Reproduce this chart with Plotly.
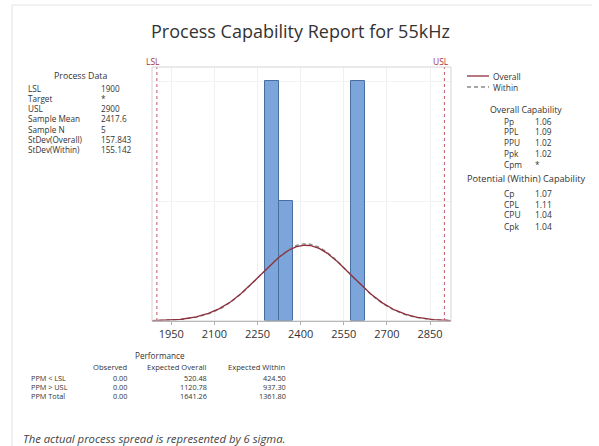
import numpy as np
import plotly.graph_objects as go

# ---- process data ----
LSL = 1900
USL = 2900
mean = 2417.6
n = 5
sd_overall = 157.843
sd_within = 155.142

# histogram bins (left edge, count), bin width 50
bin_left = [2275, 2325, 2575]
bin_counts = [2, 1, 2]
bin_width = 50

x_ticks = [1950, 2100, 2250, 2400, 2550, 2700, 2850]

process_labels = ["LSL", "Target", "USL", "Sample Mean", "Sample N",
                  "StDev(Overall)", "StDev(Within)"]
process_values = ["1900", "*", "2900", "2417.6", "5", "157.843", "155.142"]

overall_labels = ["Pp", "PPL", "PPU", "Ppk", "Cpm"]
overall_values = ["1.06", "1.09", "1.02", "1.02", "*"]
within_labels = ["Cp", "CPL", "CPU", "Cpk"]
within_values = ["1.07", "1.11", "1.04", "1.04"]

perf_rows = ["PPM < LSL", "PPM > USL", "PPM Total"]
perf_observed = ["0.00", "0.00", "0.00"]
perf_exp_overall = ["520.48", "1120.78", "1641.26"]
perf_exp_within = ["424.50", "937.30", "1361.80"]

W, H = 599, 446
FONT = "Open Sans"
TXT = "#333333"


def px(x):
    return x / W


def py(y):
    return 1 - y / H


X_RANGE = [1883, 2923]
Y_MAX = 2.117

fig = go.Figure()

# histogram bars
fig.add_trace(go.Bar(
    x=[b + bin_width / 2 for b in bin_left], y=bin_counts, width=bin_width,
    marker=dict(color="#7ca6db", line=dict(color="#4a6f9f", width=1)),
    showlegend=False, hoverinfo="skip"))

# fitted normal curves, scaled to counts per bin
xs = np.linspace(X_RANGE[0], X_RANGE[1], 400)


def scaled_pdf(sd):
    return n * bin_width * np.exp(-0.5 * ((xs - mean) / sd) ** 2) / (sd * np.sqrt(2 * np.pi))


fig.add_trace(go.Scatter(x=xs, y=scaled_pdf(sd_within), mode="lines",
                         line=dict(color="#8a8a8a", width=1.3, dash="4px,3px"),
                         showlegend=False, hoverinfo="skip"))
fig.add_trace(go.Scatter(x=xs, y=scaled_pdf(sd_overall), mode="lines",
                         line=dict(color="#8e2f3d", width=1.3),
                         showlegend=False, hoverinfo="skip"))

# spec limits
for lim, name in [(LSL, "LSL"), (USL, "USL")]:
    fig.add_trace(go.Scatter(x=[lim, lim], y=[0, Y_MAX], mode="lines",
                             line=dict(color="#c0566a", width=1, dash="dot"),
                             showlegend=False, hoverinfo="skip"))
    fig.add_annotation(x=lim - 12, xref="x", y=py(61), yref="paper", text=name,
                       showarrow=False, xanchor="center", yanchor="middle",
                       font=dict(family=FONT, size=8.5, color="#a83246"))

fig.update_layout(
    width=W, height=H, margin=dict(l=0, r=0, t=0, b=0),
    paper_bgcolor="white", plot_bgcolor="white",
    bargap=0,
    xaxis=dict(domain=[px(152), px(451)], range=X_RANGE, tickvals=x_ticks,
               showgrid=True, gridcolor="#f0f0f0", gridwidth=1,
               ticks="outside", ticklen=3, tickcolor="#b0b0b0",
               showline=True, linecolor="#9a9a9a", linewidth=1,
               tickfont=dict(family=FONT, size=11, color=TXT), zeroline=False),
    yaxis=dict(domain=[py(321), py(67)], range=[0, Y_MAX], tickvals=[1, 2],
               showticklabels=False, showgrid=True, gridcolor="#f3f3f3",
               zeroline=False, showline=False),
    showlegend=False,
)

shapes = []
# plot area border
shapes.append(dict(type="rect", xref="paper", yref="paper",
                   x0=px(152), x1=px(451), y0=py(321), y1=py(67),
                   line=dict(color="#d4d4d4", width=1)))
# outer frame
shapes.append(dict(type="line", xref="paper", yref="paper",
                   x0=px(12), x1=px(592), y0=py(5), y1=py(5),
                   line=dict(color="#e2e2e2", width=1)))
shapes.append(dict(type="line", xref="paper", yref="paper",
                   x0=px(12), x1=px(12), y0=py(5), y1=0,
                   line=dict(color="#e2e2e2", width=1)))
# legend samples
shapes.append(dict(type="line", xref="paper", yref="paper",
                   x0=px(467), x1=px(489), y0=py(76), y1=py(76),
                   line=dict(color="#8e2f3d", width=1.3)))
shapes.append(dict(type="line", xref="paper", yref="paper",
                   x0=px(467), x1=px(489), y0=py(87), y1=py(87),
                   line=dict(color="#8a8a8a", width=1.3, dash="4px,3px")))
fig.update_layout(shapes=shapes)


def text(x, y, s, anchor="left", size=8.3, color=TXT, italic=False):
    fig.add_annotation(x=px(x), y=py(y), xref="paper", yref="paper", text=s,
                       showarrow=False, xanchor=anchor, yanchor="middle",
                       borderpad=0,
                       font=dict(family=FONT, size=size, color=color,
                                 style="italic" if italic else "normal"))


def rows(x, y_first, pitch, items, anchor="left", size=8.3):
    for i, s in enumerate(items):
        text(x, y_first + i * pitch, s, anchor=anchor, size=size)


# title
text(300, 31, "Process Capability Report for 55kHz", anchor="center", size=18)

# process data block
text(81, 76, "Process Data", anchor="center", size=8.8)
rows(27, 88, 10.3, process_labels, size=8.2)
rows(100, 88, 10.3, process_values, size=8.2)

# legend text
text(492, 76, "Overall", size=8.4)
text(492, 87, "Within", size=8.4)

# overall capability
text(526, 109.5, "Overall Capability", anchor="center", size=8.8)
rows(503, 121, 10.8, overall_labels, size=8.3)
rows(534, 121, 10.8, overall_values, size=8.3)

# potential (within) capability
text(526, 178, "Potential (Within) Capability", anchor="center", size=9.2)
rows(503, 193, 11, within_labels, size=8.5)
rows(534, 193, 11, within_values, size=8.5)

# performance table
text(160, 355, "Performance", anchor="center", size=8.2)
text(128, 367, "Observed", anchor="right", size=7.6)
text(208, 367, "Expected Overall", anchor="right", size=7.6)
text(287, 367, "Expected Within", anchor="right", size=7.6)
rows(30, 378, 9.2, perf_rows, size=7.3)
rows(128, 378, 9.2, perf_observed, anchor="right", size=7.3)
rows(208, 378, 9.2, perf_exp_overall, anchor="right", size=7.3)
rows(287, 378, 9.2, perf_exp_within, anchor="right", size=7.3)

# footnote
text(22, 438, "The actual process spread is represented by 6 sigma.",
     size=11.3, color="#444444", italic=True)

fig.write_html("out.html")
